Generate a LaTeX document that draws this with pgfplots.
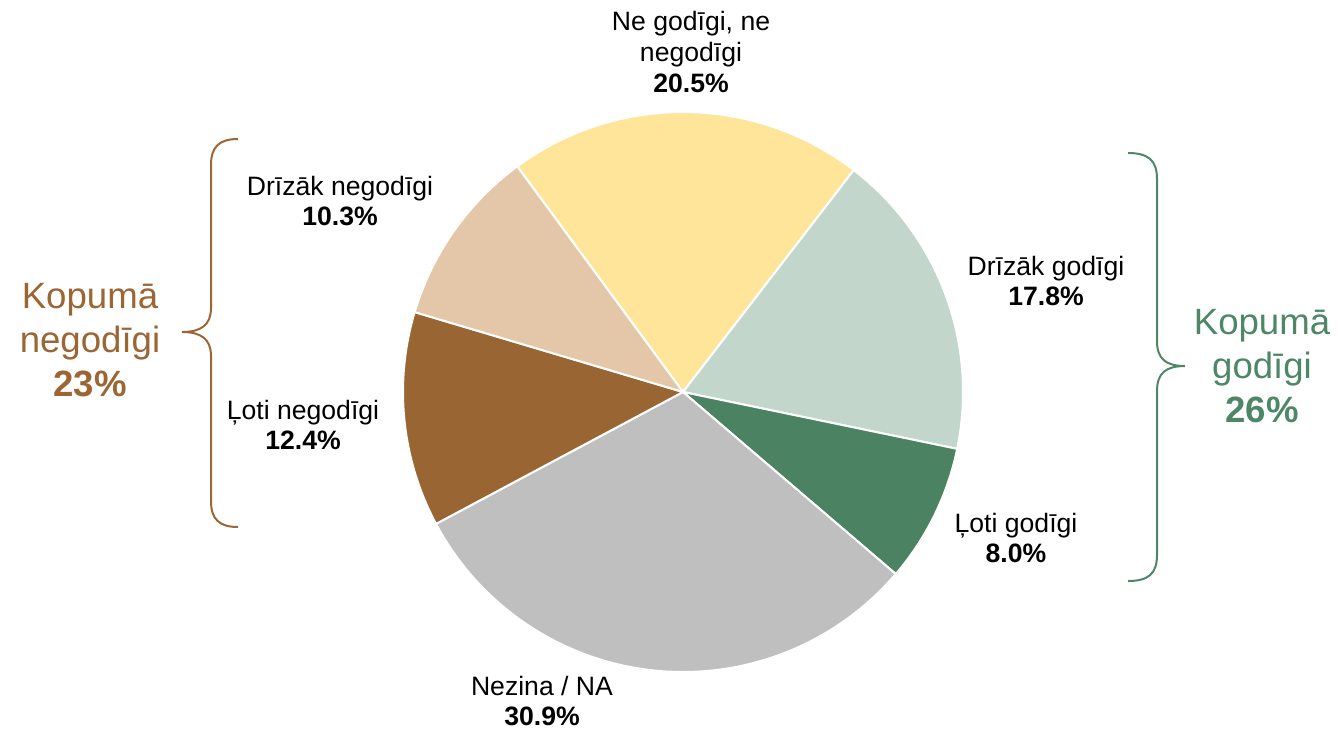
\documentclass[border=0pt]{standalone}
\usepackage{pgfplots}
\usepackage{pgfplotstable}
\pgfplotsset{compat=1.18}
\usepackage{fontspec}
\setmainfont{Liberation Sans}
\definecolor{cYellow}{HTML}{FFE599}
\definecolor{cLGreen}{HTML}{C3D6CB}
\definecolor{cDGreen}{HTML}{4A8262}
\definecolor{cGray}{HTML}{BFBFBF}
\definecolor{cBrown}{HTML}{996633}
\definecolor{cTan}{HTML}{E4C6A9}
\definecolor{tBrown}{HTML}{9C6634}
\definecolor{tGreen}{HTML}{4E8767}
\pgfplotstableread{
id value col
1 20.5 cYellow
2 17.8 cLGreen
3 8.0 cDGreen
4 30.9 cGray
5 12.4 cBrown
6 10.3 cTan
}\piedata
\newcommand\lblfont{\fontsize{13.3}{15.3}\selectfont}
\newcommand\bigfont{\fontsize{18.3}{22}\selectfont}
\begin{document}
\begin{tikzpicture}
\useasboundingbox (0,0) rectangle (669pt,364.5pt);
\begin{axis}[x=0.5pt,y=0.5pt,xmin=0,xmax=1338,ymin=0,ymax=729,y dir=reverse,
  hide axis,clip=false,scale only axis,at={(0,0)},anchor=south west]
\pgfplotstablegetrowsof{\piedata}
\pgfmathtruncatemacro\N{\pgfplotsretval-1}
\gdef\total{0}
\pgfplotsforeachungrouped \i in {0,...,\N}{%
  \pgfplotstablegetelem{\i}{value}\of\piedata
  \pgfmathsetmacro\tmp{\total+\pgfplotsretval}%
  \global\let\total\tmp
}
\gdef\cur{126.3}
\pgfplotsforeachungrouped \i in {0,...,\N}{%
  \pgfplotstablegetelem{\i}{value}\of\piedata \let\v\pgfplotsretval
  \pgfplotstablegetelem{\i}{col}\of\piedata \let\c\pgfplotsretval
  \pgfmathsetmacro\nxt{\cur-360*\v/\total}%
  \edef\temp{\noexpand\filldraw[fill=\c,draw=white,line width=1pt,line join=round] (axis cs:683,392) -- ++(\cur:140pt) arc[start angle=\cur,end angle=\nxt,radius=140pt] -- cycle;}%
  \temp
  \global\let\cur\nxt
}
\node[align=center,inner sep=0,font=\lblfont] at (axis cs:691,52) {Ne godīgi, ne\\negodīgi\\\textbf{20.5\%}};
\node[align=center,inner sep=0,font=\lblfont] at (axis cs:340,201) {Drīzāk negodīgi\\\textbf{10.3\%}};
\node[align=center,inner sep=0,font=\lblfont] at (axis cs:303,425) {Ļoti negodīgi\\\textbf{12.4\%}};
\node[align=center,inner sep=0,font=\lblfont] at (axis cs:1046,281) {Drīzāk godīgi\\\textbf{17.8\%}};
\node[align=center,inner sep=0,font=\lblfont] at (axis cs:1016,538) {Ļoti godīgi\\\textbf{8.0\%}};
\node[align=center,inner sep=0,font=\lblfont] at (axis cs:542,701) {Nezina / NA\\\textbf{30.9\%}};
\node[align=center,inner sep=0,font=\bigfont,text=tBrown] at (axis cs:90,340) {Kopumā\\negodīgi\\\textbf{23\%}};
\node[align=center,inner sep=0,font=\bigfont,text=tGreen] at (axis cs:1262,366) {Kopumā\\godīgi\\\textbf{26\%}};
\draw[tBrown,line width=1pt] (axis cs:238,139) .. controls (axis cs:219,139) and (axis cs:211,147) .. (axis cs:211,165)
  -- (axis cs:211,308) .. controls (axis cs:211,325) and (axis cs:201,332) .. (axis cs:182,332)
  .. controls (axis cs:201,332) and (axis cs:211,339) .. (axis cs:211,356)
  -- (axis cs:211,501) .. controls (axis cs:211,519) and (axis cs:219,527) .. (axis cs:238,527);
\draw[tGreen,line width=1pt] (axis cs:1128,153) .. controls (axis cs:1148,153) and (axis cs:1157,160) .. (axis cs:1157,179)
  -- (axis cs:1157,341) .. controls (axis cs:1157,359) and (axis cs:1166,366) .. (axis cs:1185,366)
  .. controls (axis cs:1166,366) and (axis cs:1157,373) .. (axis cs:1157,391)
  -- (axis cs:1157,555) .. controls (axis cs:1157,574) and (axis cs:1148,581) .. (axis cs:1128,581);
\end{axis}
\end{tikzpicture}
\end{document}
